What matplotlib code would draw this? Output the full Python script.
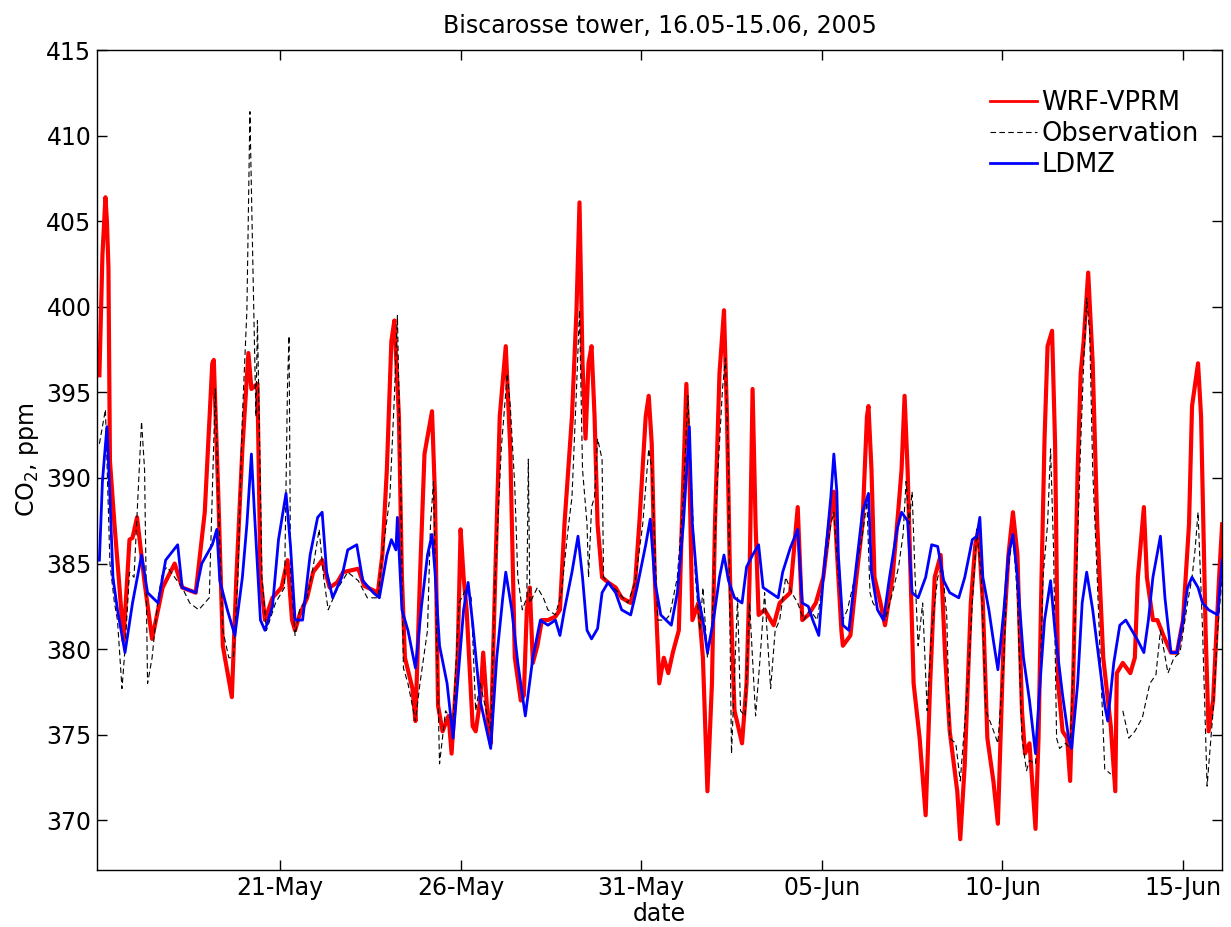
import numpy as np
import pandas as pd
import matplotlib
matplotlib.use('Agg')
import matplotlib.pyplot as plt
import matplotlib.dates as mdates

# hours since 16.05.2005 00:00 and CO2 (ppm)
wrf_hours = [0, 2, 4, 5, 6, 7, 10, 13, 16, 20, 22, 25, 30, 35, 42, 50, 55, 64, 70, 75,
             76, 79, 82, 88, 91, 95, 99, 101, 105, 107, 110, 115, 121, 125, 128, 130, 133, 138, 142, 148,
             153, 158, 162, 172, 176, 185, 188, 191, 194, 196, 199, 201, 203, 208, 210, 213, 216, 221, 223, 225,
             228, 232, 234, 238, 240, 242, 244, 248, 250, 253, 255, 258, 260, 263, 266, 270, 273, 276, 280, 282,
             284, 286, 288, 291, 294, 298, 303, 306, 309, 314, 317, 319, 321, 323, 325, 327, 329, 331, 334, 338,
             343, 347, 353, 356, 359, 363, 365, 367, 369, 372, 375, 378, 381, 385, 387, 390, 392, 394, 398, 401,
             404, 407, 409, 412, 415, 417, 419, 422, 427, 430, 432, 434, 436, 438, 442, 448, 452, 459, 464, 467,
             471, 476, 481, 486, 488, 490, 493, 494, 499, 503, 507, 510, 511, 513, 515, 519, 522, 527, 531, 533,
             535, 537, 539, 541, 545, 549, 552, 555, 559, 562, 565, 570, 572, 575, 579, 582, 584, 587, 590, 594,
             597, 601, 604, 607, 610, 613, 615, 618, 622, 624, 626, 628, 630, 633, 635, 637, 640, 643, 645, 647,
             650, 652, 654, 657, 660, 663, 667, 672, 675, 676, 680, 685, 688, 690, 694, 696, 700, 703, 707, 712,
             716, 720, 724, 726, 730, 732, 735, 737, 740, 744, 746]
wrf_ppm = [396.0, 403.0, 406.4, 405.0, 402.3, 391.0, 387.3, 384.0, 380.5, 386.4, 386.5, 387.7, 383.9, 380.6, 383.6, 385.0, 383.6, 383.3, 388.0, 396.7,
           396.9, 389.0, 380.2, 377.2, 384.2, 391.7, 397.3, 395.2, 395.5, 384.2, 381.7, 383.0, 383.6, 385.2, 381.7, 381.1, 382.0, 383.0, 384.5, 385.2,
           383.6, 383.9, 384.5, 384.7, 383.7, 383.3, 385.5, 390.5, 398.0, 399.2, 393.6, 384.2, 379.5, 377.7, 375.8, 384.2, 391.4, 393.9, 388.9, 376.7,
           375.2, 376.1, 373.9, 379.5, 387.0, 384.2, 382.3, 375.5, 375.2, 377.0, 379.8, 376.0, 374.5, 384.2, 393.6, 397.7, 391.7, 379.5, 377.0, 377.3,
           382.3, 383.6, 379.2, 380.2, 381.7, 381.7, 381.9, 382.3, 387.3, 393.6, 399.8, 406.1, 396.7, 392.3, 396.7, 397.7, 393.6, 387.3, 384.2, 383.9,
           383.6, 383.0, 382.7, 383.9, 387.7, 393.6, 394.8, 392.0, 384.2, 378.0, 379.5, 378.6, 379.8, 381.1, 387.3, 395.5, 390.5, 381.7, 382.7, 379.5,
           371.7, 378.0, 387.3, 396.1, 399.8, 393.6, 384.2, 376.4, 374.5, 378.0, 384.2, 395.2, 387.3, 382.0, 382.3, 381.4, 382.7, 383.3, 388.3, 381.7,
           382.0, 382.7, 384.2, 388.0, 389.2, 385.8, 381.1, 380.2, 380.8, 384.2, 387.3, 393.6, 394.2, 390.5, 384.2, 382.7, 381.4, 384.2, 388.3, 390.5,
           394.8, 390.5, 384.2, 378.0, 374.8, 370.3, 378.0, 384.2, 385.5, 379.5, 375.2, 371.7, 368.9, 373.3, 382.7, 386.1, 387.0, 382.7, 374.8, 372.3,
           369.8, 381.1, 385.5, 388.0, 385.5, 376.4, 373.9, 374.5, 369.5, 374.8, 384.2, 392.3, 397.7, 398.6, 392.0, 378.0, 375.2, 374.8, 372.3, 378.0,
           390.5, 396.1, 398.0, 402.0, 396.7, 387.3, 379.5, 375.5, 371.7, 378.6, 379.2, 378.6, 379.5, 384.2, 388.3, 384.2, 381.7, 381.7, 380.8, 379.8,
           379.8, 381.7, 387.3, 394.2, 396.7, 393.6, 381.1, 375.2, 377.0, 384.2, 387.3]

obs_hours = [0, 4, 7, 10, 12, 15, 17, 20, 23, 28, 30, 32, 35, 39, 42, 45, 50, 55, 60, 66,
             73, 77, 79, 82, 86, 89, 92, 95, 98, 100, 102, 104, 105, 108, 111, 117, 123, 125, 126, 127,
             130, 133, 138, 142, 146, 149, 152, 158, 165, 172, 178, 185, 188, 193, 196, 198, 200, 202, 205, 210,
             213, 218, 220, 222, 224, 226, 230, 233, 235, 239, 244, 247, 250, 253, 260, 263, 267, 271, 273, 276,
             278, 281, 284, 285, 286, 291, 295, 298, 303, 307, 311, 314, 317, 319, 321, 324, 325, 327, 329, 331,
             334, 335, 338, 345, 351, 356, 361, 365, 367, 371, 376, 379, 384, 388, 391, 393, 396, 399, 401, 404,
             407, 410, 414, 416, 418, 419, 420, 424, 426, 429, 432, 436, 439, 442, 446, 449, 452, 456, 460, 464,
             468, 472, 477, 481, 486, 488, 491, 494, 497, 502, 507, 510, 512, 514, 517, 522, 527, 531, 534, 536,
             538, 540, 542, 544, 547, 550, 553, 557, 560, 563, 565, 569, 572, 577, 580, 583, 586, 589, 593, 597,
             601, 603, 607, 610, 613, 616, 618, 622, 625, 627, 630, 632, 634, 636, 638, 642, 645, 648, 652, 654,
             656, 658, 660, 663, 665, 668, 672, 676, 680, 684, 688, 693, 698, 702, 705, 710, 714, 718, 723, 726,
             728, 730, 733, 736, 740, 743, 746]
obs_ppm = [392.0, 394.0, 385.0, 382.7, 381.7, 377.7, 380.0, 384.5, 384.2, 393.3, 390.5, 378.0, 379.5, 383.0, 384.5, 384.8, 384.2, 383.6, 382.7, 382.3,
           383.0, 395.2, 388.6, 381.1, 379.5, 379.5, 384.2, 393.6, 399.8, 411.4, 402.3, 393.6, 399.2, 384.2, 381.1, 382.7, 383.6, 395.5, 398.3, 384.5,
           380.8, 382.3, 383.0, 384.8, 387.0, 384.2, 382.3, 383.5, 384.5, 384.0, 383.0, 383.0, 385.5, 388.9, 394.8, 399.5, 390.5, 378.9, 378.0, 375.8,
           378.0, 381.1, 387.3, 389.8, 381.1, 373.3, 376.4, 376.0, 375.8, 382.7, 383.6, 383.0, 376.4, 378.0, 375.2, 384.2, 391.7, 396.1, 394.2, 389.5,
           384.2, 382.3, 383.0, 391.1, 382.7, 383.6, 383.0, 382.3, 382.0, 383.3, 386.7, 388.9, 395.2, 399.8, 390.5, 387.3, 384.2, 388.3, 388.9, 392.3,
           391.1, 384.2, 383.9, 383.3, 382.7, 383.9, 387.3, 391.7, 390.5, 381.7, 381.7, 382.0, 384.2, 388.9, 394.8, 390.5, 384.2, 381.1, 383.6, 379.5,
           381.1, 388.9, 395.2, 397.0, 390.5, 381.1, 373.9, 383.0, 376.4, 376.1, 382.7, 376.1, 379.5, 383.3, 377.7, 381.1, 381.7, 384.2, 383.3, 382.7,
           381.7, 382.3, 381.7, 384.2, 387.3, 388.0, 384.2, 381.7, 382.3, 384.2, 386.7, 388.6, 383.3, 382.7, 382.3, 381.7, 383.3, 384.8, 386.7, 389.8,
           387.3, 389.2, 384.2, 380.2, 382.7, 376.4, 381.1, 384.2, 384.8, 382.0, 374.8, 374.5, 372.3, 378.0, 382.7, 387.0, 384.2, 376.4, 375.5, 374.5,
           379.5, 384.2, 386.7, 383.0, 374.8, 372.9, 373.5, 373.3, 378.0, 384.2, 387.3, 391.7, 385.8, 374.8, 374.2, 374.5, 374.2, 381.1, 392.0, 396.7,
           400.5, 398.5, 390.5, 384.2, 379.5, 373.0, 372.7, np.nan, 376.4, 374.8, 375.2, 376.0, 378.0, 378.5, 381.1, 378.6, 379.5, 379.8, 382.7, 384.2,
           385.8, 388.0, 381.1, 372.0, 376.4, 381.1, 384.2]

ldmz_hours = [0, 2, 5, 7, 9, 12, 17, 22, 28, 32, 39, 44, 52, 55, 64, 68, 75, 78, 80, 85,
              90, 95, 98, 101, 103, 107, 110, 115, 119, 124, 127, 130, 135, 140, 145, 148, 151, 155, 161, 165,
              171, 175, 182, 186, 191, 194, 197, 198, 201, 205, 210, 214, 218, 221, 223, 226, 231, 235, 238, 242,
              245, 248, 253, 260, 264, 268, 270, 274, 278, 283, 288, 293, 298, 303, 306, 309, 314, 318, 321, 324,
              327, 331, 334, 338, 343, 347, 353, 357, 363, 366, 369, 373, 380, 384, 388, 392, 394, 398, 401, 404,
              408, 412, 415, 418, 422, 427, 430, 434, 438, 441, 446, 451, 454, 459, 464, 467, 471, 474, 478, 481,
              486, 488, 490, 491, 494, 498, 502, 507, 511, 513, 517, 521, 525, 530, 533, 537, 540, 544, 549, 553,
              557, 561, 565, 571, 575, 580, 583, 585, 587, 591, 594, 597, 601, 604, 607, 610, 614, 618, 622, 625,
              628, 632, 635, 640, 644, 646, 650, 653, 656, 660, 664, 668, 670, 674, 678, 682, 686, 690, 694, 697,
              700, 705, 708, 712, 716, 720, 723, 726, 730, 733, 737, 743, 746]
ldmz_ppm = [385.2, 389.8, 393.0, 388.9, 384.2, 382.3, 379.8, 382.7, 385.5, 383.3, 382.7, 385.2, 386.1, 383.6, 383.3, 385.0, 386.1, 387.0, 384.0, 382.3,
            380.8, 384.2, 387.3, 391.4, 388.0, 381.7, 381.1, 382.5, 386.4, 389.1, 386.0, 381.7, 381.7, 385.5, 387.7, 388.0, 384.5, 383.0, 384.2, 385.8,
            386.1, 384.0, 383.3, 383.0, 385.5, 386.4, 385.8, 387.7, 382.3, 381.1, 378.9, 382.5, 385.5, 386.7, 384.5, 380.2, 378.0, 374.8, 378.0, 382.3,
            383.9, 381.5, 377.0, 374.2, 379.5, 383.0, 384.5, 382.3, 379.2, 376.1, 379.5, 381.7, 381.4, 381.7, 380.8, 382.3, 384.5, 386.6, 384.2, 381.1,
            380.6, 381.2, 383.3, 383.9, 383.3, 382.3, 382.0, 383.5, 386.1, 387.6, 384.0, 382.0, 381.4, 383.3, 387.3, 393.0, 387.3, 383.0, 381.7, 379.8,
            381.7, 384.2, 385.5, 384.0, 383.0, 382.7, 384.8, 385.5, 386.1, 383.6, 383.3, 383.0, 384.5, 385.9, 387.0, 382.7, 382.5, 381.7, 380.8, 384.2,
            388.9, 391.4, 389.2, 385.5, 381.4, 381.1, 384.2, 388.0, 389.1, 384.5, 382.3, 381.7, 384.2, 387.0, 388.0, 387.5, 383.3, 383.0, 384.2, 386.1,
            386.0, 384.0, 383.3, 383.0, 384.2, 386.4, 386.6, 387.7, 384.2, 382.3, 380.5, 378.8, 382.3, 385.5, 386.7, 384.2, 379.5, 377.0, 373.9, 378.0,
            381.7, 384.0, 381.0, 377.3, 374.8, 374.2, 378.0, 382.7, 384.5, 382.3, 379.5, 376.7, 375.8, 379.2, 381.4, 381.7, 381.1, 380.5, 379.8, 381.7,
            384.2, 386.6, 383.0, 379.8, 379.8, 381.7, 383.6, 384.2, 383.6, 382.7, 382.3, 382.0, 385.2]

start = pd.Timestamp('2005-05-16')


def to_dates(hours):
    return start + pd.to_timedelta(np.array(hours, dtype=float), unit='h')


plt.rcParams['font.family'] = ['DejaVu Sans']
fs = 17

fig = plt.figure(figsize=(12.31, 9.27), dpi=100)
ax = fig.add_axes([0.0788, 0.0615, 0.914, 0.8845])

ax.plot(to_dates(wrf_hours), wrf_ppm, color='red', lw=3.0, label='WRF-VPRM', zorder=2)
ax.plot(to_dates(obs_hours), obs_ppm, color='black', lw=0.8, dashes=(5, 3), label='Observation', zorder=3)
ax.plot(to_dates(ldmz_hours), ldmz_ppm, color='blue', lw=2.0, label='LDMZ', zorder=4)

ax.set_xlim(start - pd.Timedelta(hours=1.6), start + pd.Timedelta(hours=746))
ax.set_ylim(367.1, 415)
ax.set_yticks(np.arange(370, 416, 5))
ticks = pd.date_range('2005-05-21', '2005-06-15', freq='5D')
ax.set_xticks(ticks)
ax.xaxis.set_major_formatter(mdates.DateFormatter('%d-%b'))

ax.tick_params(direction='in', top=True, right=True, length=7, width=1.0,
               labelsize=fs, pad=4)
for s in ax.spines.values():
    s.set_linewidth(1.0)

ax.set_title('Biscarosse tower, 16.05-15.06, 2005', fontsize=fs, pad=12)
ax.set_xlabel('date', fontsize=fs, labelpad=2)
ax.set_ylabel('CO$_2$, ppm', fontsize=fs, labelpad=4)

leg = ax.legend(loc='upper right', bbox_to_anchor=(0.9995, 0.98), frameon=False,
                fontsize=18.5, handlelength=1.85, handletextpad=0.15, labelspacing=0.2)
for h in leg.get_lines():
    h.set_linewidth(2.0 if h.get_color() != 'black' else 0.8)

fig.savefig('out.png', dpi=100)
